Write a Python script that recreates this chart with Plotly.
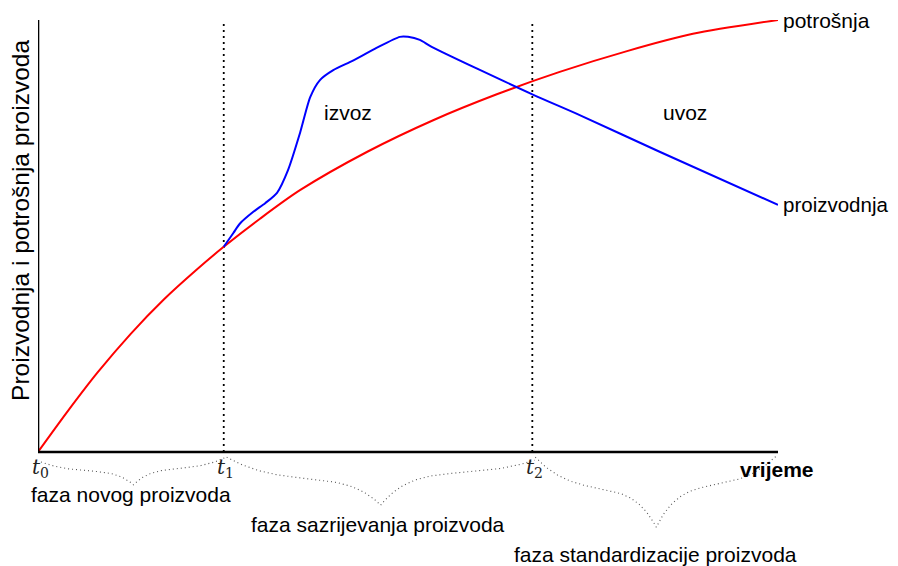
import plotly.graph_objects as go

# ---- data (time on x, quantity on y; arbitrary 0-100 units) ----
phase_bounds = [0.0, 25.1, 66.8, 100.0]          # t0, t1, t2, end
tick_labels = ["<i>t</i><sub>0</sub>", "<i>t</i><sub>1</sub>", "<i>t</i><sub>2</sub>"]
phase_names = ["faza novog proizvoda", "faza sazrijevanja proizvoda",
               "faza standardizacije proizvoda"]

potrosnja_x = [0, 4, 8, 12.5, 17, 21.5, 25.1, 30, 35.4, 44.5, 53.4, 62, 70.5, 79.6, 88.5, 100]
potrosnja_y = [0, 9.4, 18.3, 27.3, 35.3, 42.3, 47.5, 54.0, 60.6, 69.5, 76.8, 82.8, 88.0, 92.8, 96.8, 100]

proizvodnja_x = [25.1, 26.4, 27.3, 29.1, 30.7, 32.3, 33.8, 35.4, 36.8, 38.1, 39.9, 42.2, 45.5,
                 48.9, 50.0, 51.6, 53.2, 66.8, 73.2, 84.0, 100]
proizvodnja_y = [47.5, 50.7, 52.9, 55.6, 57.6, 60.0, 65.3, 73.8, 82.2, 86.1, 88.4, 90.3, 93.3,
                 96.1, 96.1, 95.4, 93.8, 82.8, 78.0, 69.5, 57.2]

FONT = "Liberation Sans"
fig = go.Figure()

# vertical dotted phase markers
for t in phase_bounds[1:3]:
    fig.add_trace(go.Scatter(x=[t, t], y=[0, 100], mode="lines",
                             line=dict(color="black", width=1.8, dash="2px,4px"),
                             hoverinfo="skip", showlegend=False))

# braces under the time axis
def brace(xa, xb, ya, yfl_l, ytip, yfl_r, yb, n=60):
    xm = (xa + xb) / 2
    xs, ys = [], []
    for i in range(n + 1):
        s = i / n
        xs.append(xa + (xm - xa) * s)
        ys.append(ya + (yfl_l - ya) * (1 - (1 - s) ** 4) + (ytip - yfl_l) * s ** 6)
    for i in range(n - 1, -1, -1):
        s = i / n
        xs.append(xb + (xm - xb) * s)
        ys.append(yb + (yfl_r - yb) * (1 - (1 - s) ** 4) + (ytip - yfl_r) * s ** 6)
    return xs, ys

brace_geo = [(-2.3, -4.4, -7.6, -3.9, -1.2),
             (-1.2, -6.3, -12.3, -4.9, -1.9),
             (-1.2, -8.6, -17.4, -7.8, -0.7)]
for i, g in enumerate(brace_geo):
    xa = phase_bounds[i] + 0.4
    xb = phase_bounds[i + 1] - (0.1 if i == 2 else -0.3)
    bx, by = brace(xa, xb, *g)
    fig.add_trace(go.Scatter(x=bx, y=by, mode="lines",
                             line=dict(color="#555555", width=1.1, dash="1px,3px"),
                             hoverinfo="skip", showlegend=False))

fig.add_trace(go.Scatter(x=potrosnja_x, y=potrosnja_y, mode="lines", name="potrošnja",
                         line=dict(color="#ff0000", width=2, shape="spline", smoothing=0.8),
                         showlegend=False))
fig.add_trace(go.Scatter(x=proizvodnja_x, y=proizvodnja_y, mode="lines", name="proizvodnja",
                         line=dict(color="#0000ff", width=2, shape="spline", smoothing=0.7),
                         showlegend=False))

# axes as lines
fig.add_shape(type="line", x0=0, x1=100, y0=0, y1=0, line=dict(color="black", width=2.6))
fig.add_shape(type="line", x0=0, x1=0, y0=0, y1=100, line=dict(color="black", width=2.6))

ann = []
for t, lab in zip(phase_bounds[:3], tick_labels):
    ann.append(dict(x=t, y=0, xref="x", yref="y", text=lab, showarrow=False,
                    xanchor="center", yanchor="middle", yshift=-16, xshift=2,
                    font=dict(family="DejaVu Serif", size=20, color="#222")))
ann.append(dict(x=100, y=0, xref="x", yref="y", text="<b>vrijeme</b>", showarrow=False,
                xanchor="right", yanchor="middle", xshift=38, yshift=-17,
                font=dict(family=FONT, size=21, color="black")))
for i, name in enumerate(phase_names):
    xm = (phase_bounds[i] + phase_bounds[i + 1]) / 2
    ann.append(dict(x=xm, y=0, xref="x", yref="y", text=name, showarrow=False,
                    xanchor="center", yanchor="middle", yshift=-42 - 30 * i,
                    font=dict(family=FONT, size=21, color="black")))
ann.append(dict(x=41.9, y=78.7, xref="x", yref="y", text="izvoz", showarrow=False,
                font=dict(family=FONT, size=21, color="black")))
ann.append(dict(x=87.4, y=78.5, xref="x", yref="y", text="uvoz", showarrow=False,
                font=dict(family=FONT, size=21, color="black")))
ann.append(dict(x=potrosnja_x[-1], y=potrosnja_y[-1], xref="x", yref="y", text="potrošnja",
                showarrow=False, xanchor="left", yanchor="middle", xshift=4, borderpad=0,
                font=dict(family=FONT, size=21, color="black")))
ann.append(dict(x=proizvodnja_x[-1], y=proizvodnja_y[-1], xref="x", yref="y", text="proizvodnja",
                showarrow=False, xanchor="left", yanchor="middle", xshift=4, borderpad=0,
                font=dict(family=FONT, size=20.5, color="black")))
ann.append(dict(x=0, y=53.5, xref="x", yref="y", text="Proizvodnja i potrošnja proizvoda",
                showarrow=False, textangle=-90, xanchor="center", yanchor="middle", xshift=-17,
                borderpad=0, font=dict(family=FONT, size=24.5, color="black")))

# page body has an 8px margin, so the figure is 8px smaller and offset
fig.update_layout(
    width=890, height=558, autosize=False,
    margin=dict(l=30, r=120, t=12, b=0, pad=0),
    paper_bgcolor="white", plot_bgcolor="white",
    xaxis=dict(range=[0, 100], visible=False, fixedrange=True),
    yaxis=dict(range=[-114 / 4.32, 100], visible=False, fixedrange=True),
    annotations=ann, showlegend=False,
)

fig.write_html("out.html")
